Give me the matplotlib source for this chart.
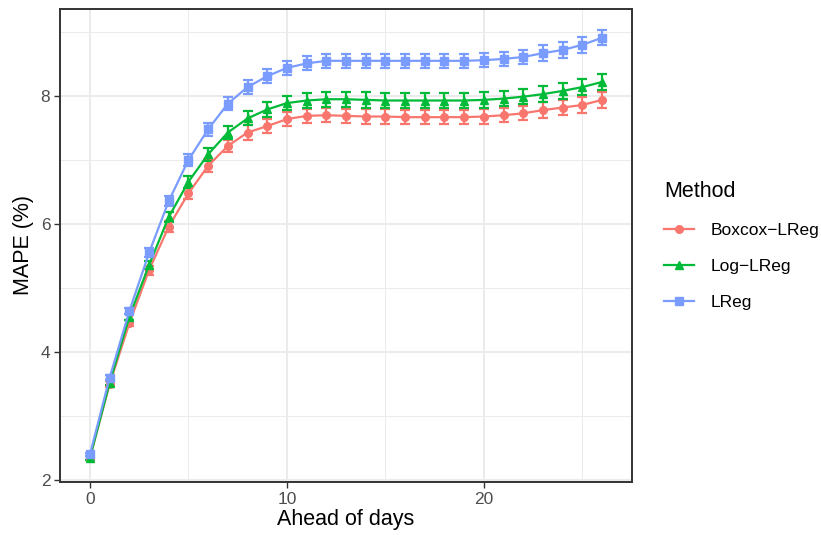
import numpy as np
import matplotlib.pyplot as plt

plt.rcParams['font.family'] = ['Liberation Sans', 'DejaVu Sans']

days = list(range(27))

boxcox_mape = [2.35, 3.50, 4.45, 5.28, 5.96, 6.48, 6.91, 7.22, 7.43, 7.53, 7.64, 7.69, 7.70,
               7.69, 7.68, 7.68, 7.67, 7.67, 7.67, 7.67, 7.68, 7.70, 7.73, 7.78, 7.82, 7.86, 7.94]
boxcox_err = [0.03, 0.04, 0.05, 0.07, 0.08, 0.09, 0.10, 0.10, 0.11, 0.11, 0.11, 0.11, 0.11,
              0.11, 0.11, 0.11, 0.11, 0.11, 0.11, 0.11, 0.11, 0.11, 0.11, 0.12, 0.12, 0.12, 0.12]

log_mape = [2.35, 3.52, 4.55, 5.36, 6.11, 6.66, 7.09, 7.43, 7.65, 7.79, 7.89, 7.93, 7.95,
            7.95, 7.94, 7.93, 7.93, 7.93, 7.93, 7.93, 7.94, 7.96, 7.99, 8.03, 8.08, 8.14, 8.22]
log_err = [0.03, 0.04, 0.05, 0.07, 0.08, 0.09, 0.10, 0.10, 0.11, 0.11, 0.11, 0.12, 0.12,
           0.12, 0.12, 0.12, 0.12, 0.12, 0.12, 0.12, 0.12, 0.12, 0.12, 0.12, 0.12, 0.12, 0.12]

lreg_mape = [2.40, 3.60, 4.64, 5.55, 6.36, 7.00, 7.48, 7.88, 8.14, 8.31, 8.44, 8.51, 8.55,
             8.55, 8.55, 8.55, 8.55, 8.55, 8.55, 8.55, 8.56, 8.58, 8.61, 8.67, 8.72, 8.80, 8.91]
lreg_err = [0.03, 0.04, 0.05, 0.07, 0.08, 0.09, 0.10, 0.10, 0.11, 0.11, 0.11, 0.11, 0.11,
            0.11, 0.11, 0.11, 0.11, 0.11, 0.11, 0.11, 0.11, 0.11, 0.11, 0.12, 0.12, 0.12, 0.12]

methods = ['Boxcox\u2212LReg', 'Log\u2212LReg', 'LReg']
colors = ['#F8766D', '#00BA38', '#7B9CFF']
markers = ['o', '^', 's']

fig = plt.figure(figsize=(8.21, 5.35), dpi=100)
ax = fig.add_axes([0.0731, 0.0991, 0.6967, 0.8841])

series = [(boxcox_mape, boxcox_err), (log_mape, log_err), (lreg_mape, lreg_err)]
handles = []
for (vals, err), name, c, m in zip(series, methods, colors, markers):
    ax.errorbar(days, vals, yerr=err, fmt='none', ecolor=c, elinewidth=1.6,
                capsize=3.5, capthick=1.6, zorder=3)
    h, = ax.plot(days, vals, color=c, lw=1.6, marker=m, markersize=5.5,
                 label=name, zorder=4)
    handles.append(h)

ax.set_xlim(-1.52, 27.52)
ax.set_ylim(1.97, 9.36)
ax.set_xticks([0, 10, 20])
ax.set_yticks([2, 4, 6, 8])
ax.set_xticks([5, 15, 25], minor=True)
ax.set_yticks([3, 5, 7, 9], minor=True)
ax.grid(True, which='major', color='#EBEBEB', lw=1.4)
ax.grid(True, which='minor', color='#EBEBEB', lw=0.7)
ax.set_axisbelow(True)
ax.tick_params(which='minor', length=0)
ax.tick_params(which='major', length=4, width=1, color='#333333',
               labelsize=12.5, labelcolor='#4D4D4D', pad=3)
for s in ax.spines.values():
    s.set_color('#333333')
    s.set_linewidth(1.4)

ax.set_xlabel('Ahead of days', fontsize=15.5, labelpad=2)
ax.set_ylabel('MAPE (%)', fontsize=15.5, labelpad=5)

leg = fig.legend(handles=handles, title='Method', loc='upper left',
                 bbox_to_anchor=(0.79, 0.69), frameon=False, fontsize=12.5,
                 title_fontsize=15.5, handlelength=1.7, labelspacing=1.2,
                 handletextpad=1.0)
leg._legend_box.align = 'left'

fig.savefig('out.png', dpi=100)
